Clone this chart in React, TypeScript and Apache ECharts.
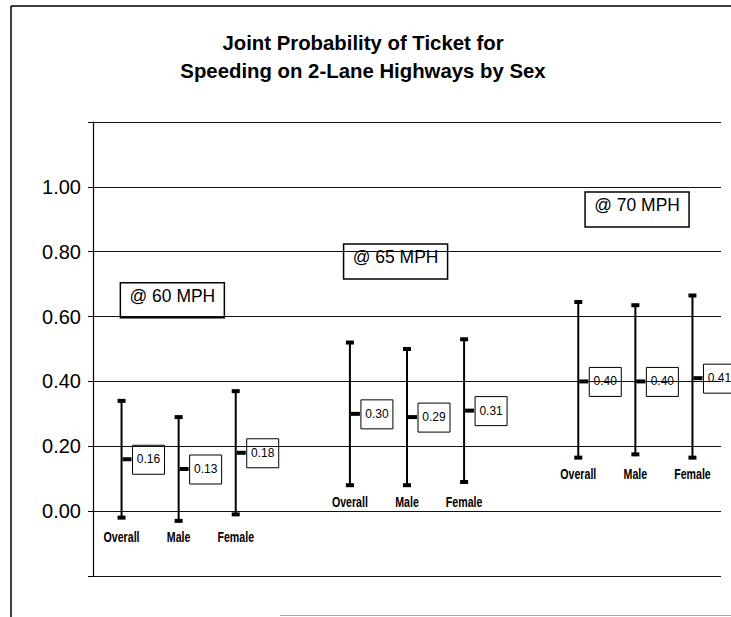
import React, { useEffect, useRef } from "react";
import * as echarts from "echarts";

const categories = ["Overall", "Male", "Female", "", "Overall", "Male", "Female", "", "Overall", "Male", "Female"];
const means = [0.16, 0.13, 0.18, null, 0.3, 0.29, 0.31, null, 0.4, 0.4, 0.41];
const lows = [-0.02, -0.03, -0.01, null, 0.08, 0.08, 0.09, null, 0.165, 0.175, 0.165];
const highs = [0.34, 0.29, 0.37, null, 0.52, 0.5, 0.53, null, 0.645, 0.635, 0.665];
const yTicks = [0, 0.2, 0.4, 0.6, 0.8, 1.0];
const speedLabels = ["@ 60 MPH", "@ 65 MPH", "@ 70 MPH"];
const speedLabelCats = [1, 5, 9];
const speedLabelY = [0.65, 0.77, 0.93];
const titleLines = ["Joint Probability of Ticket for", "Speeding on 2-Lane Highways by Sex"];

const SANS = "'Liberation Sans', Arial, sans-serif";
const speedShift = [-0.11, -0.2, 0.03];

export default function App() {
  const ref = useRef<HTMLDivElement>(null);
  useEffect(() => {
    if (!ref.current) return;
    const chart = echarts.init(ref.current, null, { renderer: "svg" });
    const errData: any[] = [];
    categories.forEach((c, i) => {
      if (means[i] != null) errData.push([i, lows[i], means[i], highs[i]]);
    });
    const groupMinLow = (idx: number) => {
      const g = Math.floor(idx / 4);
      let m = Infinity;
      for (let j = g * 4; j < g * 4 + 3; j++) if (lows[j] != null && (lows[j] as number) < m) m = lows[j] as number;
      return m;
    };
    const speedData = speedLabels.map((t, i) => [speedLabelCats[i], speedLabelY[i], i]);

    chart.setOption({
      animation: false,
      backgroundColor: "#fff",
      grid: { left: 93, top: 122, right: 10, bottom: 41, containLabel: false },
      xAxis: {
        type: "category",
        data: categories,
        axisLine: { show: false },
        axisTick: { show: false },
        axisLabel: { show: false },
        splitLine: { show: false },
      },
      yAxis: {
        type: "value",
        min: -0.2,
        max: 1.2,
        interval: 0.2,
        axisLine: { show: true, lineStyle: { color: "#000", width: 1.2 } },
        axisTick: { show: true, inside: false, length: 5, lineStyle: { color: "#000" } },
        splitLine: { show: true, lineStyle: { color: "#111", width: 1.2 } },
        axisLabel: {
          margin: 12,
          fontSize: 20,
          fontFamily: SANS,
          color: "#000",
          formatter: (v: number) => {
            const t = yTicks.find((y) => Math.abs(y - v) < 1e-6);
            return t === undefined ? "" : t.toFixed(2);
          },
        },
      },
      graphic: [
        { type: "line", shape: { x1: 11, y1: 6, x2: 731, y2: 6 }, style: { stroke: "#000", lineWidth: 1.5 } },
        { type: "line", shape: { x1: 11, y1: 6, x2: 11, y2: 617 }, style: { stroke: "#000", lineWidth: 1.5 } },
        { type: "line", shape: { x1: 280, y1: 615.5, x2: 731, y2: 615.5 }, style: { stroke: "#aaa", lineWidth: 1 } },
        ...titleLines.map((t, i) => ({
          type: "text",
          x: 363,
          y: 42 + i * 28,
          scaleX: 0.97,
          style: {
            text: t,
            x: 0,
            y: 0,
            align: "center",
            verticalAlign: "middle",
            fontSize: 21,
            fontWeight: "bold",
            fontFamily: SANS,
            fill: "#000",
          },
        })),
      ],
      series: [
        {
          type: "custom",
          data: errData,
          clip: false,
          renderItem: (params: any, api: any) => {
            const idx = api.value(0);
            const lo = api.coord([idx, api.value(1)]);
            const mid = api.coord([idx, api.value(2)]);
            const hi = api.coord([idx, api.value(3)]);
            const labelY = api.coord([idx, groupMinLow(idx)])[1] + 17;
            const x = lo[0];
            const meanText = Number(api.value(2)).toFixed(2);
            return {
              type: "group",
              children: [
                { type: "line", shape: { x1: x, y1: lo[1], x2: x, y2: hi[1] }, style: { stroke: "#000", lineWidth: 2 } },
                { type: "rect", shape: { x: x - 4, y: lo[1] - 2, width: 8, height: 4 }, style: { fill: "#000" } },
                { type: "rect", shape: { x: x - 4, y: hi[1] - 2, width: 8, height: 4 }, style: { fill: "#000" } },
                { type: "rect", shape: { x: x + 1, y: mid[1] - 2, width: 9, height: 4 }, style: { fill: "#000" } },
                {
                  type: "rect",
                  shape: { x: x + 11, y: mid[1] - 14, width: 32, height: 29 },
                  style: { fill: "none", stroke: "#000", lineWidth: 1 },
                },
                {
                  type: "text",
                  style: {
                    text: meanText,
                    x: x + 27,
                    y: mid[1],
                    align: "center",
                    verticalAlign: "middle",
                    fontSize: 12,
                    fontFamily: SANS,
                    fill: "#000",
                  },
                },
                {
                  type: "text",
                  x: x,
                  y: labelY,
                  scaleX: 0.76,
                  style: {
                    text: categories[idx],
                    x: 0,
                    y: 0,
                    align: "center",
                    verticalAlign: "middle",
                    fontSize: 14,
                    fontWeight: "bold",
                    fontFamily: SANS,
                    fill: "#000",
                  },
                },
              ],
            };
          },
        },
        {
          type: "custom",
          data: speedData,
          clip: false,
          renderItem: (params: any, api: any) => {
            const idx = api.value(0);
            const k = api.value(2);
            const p = api.coord([idx, api.value(1)]);
            const band = api.size([1, 0])[0];
            const cx = p[0] + speedShift[k] * band;
            const cy = p[1];
            return {
              type: "group",
              children: [
                {
                  type: "rect",
                  shape: { x: cx - 52, y: cy - 17.5, width: 104, height: 35 },
                  style: { fill: "none", stroke: "#000", lineWidth: 1.5 },
                },
                {
                  type: "text",
                  x: cx,
                  y: cy - 5,
                  scaleX: 0.92,
                  style: {
                    text: speedLabels[k],
                    x: 0,
                    y: 0,
                    align: "center",
                    verticalAlign: "middle",
                    fontSize: 19,
                    fontFamily: SANS,
                    fill: "#000",
                  },
                },
              ],
            };
          },
        },
      ],
    });
    return () => chart.dispose();
  }, []);
  return <div ref={ref} style={{ position: "fixed", left: 0, top: 0, width: 731, height: 617 }} />;
}
